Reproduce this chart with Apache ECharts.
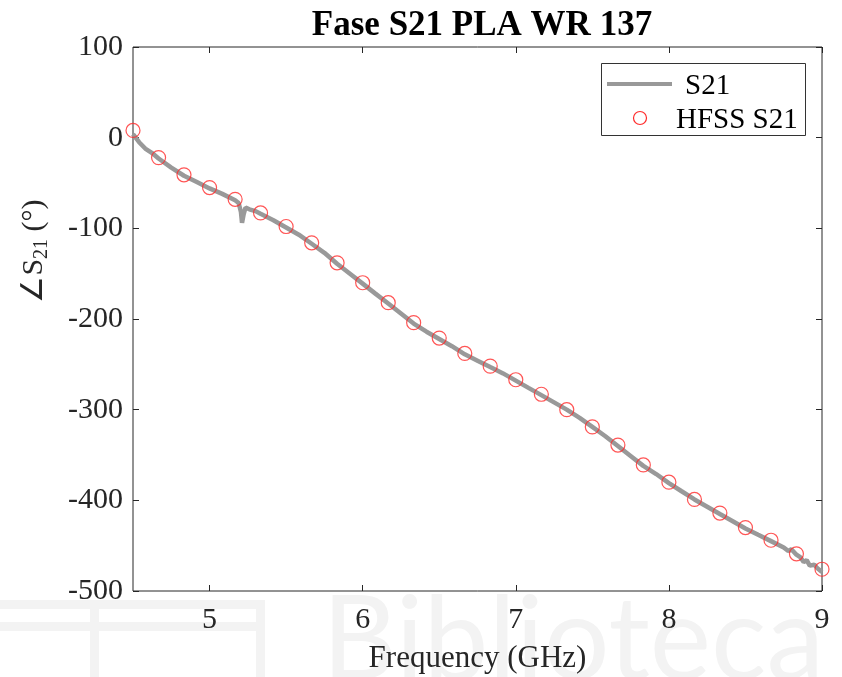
<!DOCTYPE html>
<html>
<head>
<meta charset="utf-8">
<script src="https://cdn.jsdelivr.net/npm/echarts@6/dist/echarts.min.js"></script>
<style>html,body{margin:0;padding:0;background:#fff}#c{width:842px;height:677px}</style>
</head>
<body>
<div id="c"></div>
<script>
// Measured S21 phase line (GHz, degrees)
const lineFreq = [4.5,4.54,4.58,4.625,4.667,4.75,4.833,4.917,5.0,5.083,5.167,5.19,5.205,5.212,5.222,5.235,5.26,5.3,5.333,5.417,5.5,5.583,5.667,5.75,5.833,5.917,6.0,6.083,6.167,6.25,6.333,6.417,6.5,6.583,6.667,6.75,6.833,6.917,7.0,7.083,7.167,7.25,7.333,7.417,7.5,7.583,7.667,7.75,7.833,7.917,8.0,8.083,8.167,8.25,8.333,8.417,8.5,8.583,8.667,8.75,8.78,8.8,8.833,8.86,8.88,8.9,8.92,8.95,8.97,9.0];
const lineVals = [4,-5,-12,-17,-23,-33,-42,-49,-56,-62,-69,-72,-82,-94,-85,-77,-79,-81,-84,-91,-99,-107,-117,-127,-139,-150,-161,-172,-183,-194,-205,-214,-222,-230,-239,-246,-253,-260,-268,-276,-284,-292,-300,-309,-319,-329,-340,-351,-362,-371,-381,-390,-399,-407,-415,-423,-431,-438,-445,-452,-456,-454,-460,-463,-468,-466,-472,-471,-475,-479];
// HFSS simulated points
const hfssFreq = [4.5,4.667,4.833,5.0,5.167,5.333,5.5,5.667,5.833,6.0,6.167,6.333,6.5,6.667,6.833,7.0,7.167,7.333,7.5,7.667,7.833,8.0,8.167,8.333,8.5,8.667,8.833,9.0];
const hfssVals = [8,-22,-41,-55,-68,-83,-98,-116,-138,-160,-182,-204,-221,-238,-252,-267,-283,-300,-319,-339,-361,-380,-399,-414,-430,-444,-459,-476];
const xTicks = [5,6,7,8,9];
const yTicks = [100,0,-100,-200,-300,-400,-500];
const seriesNames = ['S21','HFSS S21'];

const FONT = '"Liberation Serif","Times New Roman",serif';
const LINE_COLOR = '#999999';
const MARK_COLOR = '#ff2a2a';
const WM = '#f3f3f3';
const chart = echarts.init(document.getElementById('c'));
const line = lineFreq.map((f,i)=>[f,lineVals[i]]);
const hfss = hfssFreq.map((f,i)=>[f,hfssVals[i]]);

const tickStyle = {show:true, inside:true, length:6, lineStyle:{color:'#262626', width:1}};
chart.setOption({
  backgroundColor:'#fff',
  animation:false,
  graphic:[
    // faint background watermark of the source page
    {type:'text', z:-10, silent:true,
     style:{text:'Biblioteca', x:322, y:700, verticalAlign:'bottom', fill:WM, font:'116px Lato, sans-serif'}},
    {type:'rect', z:-10, silent:true, shape:{x:0,y:600,width:265,height:9}, style:{fill:WM}},
    {type:'rect', z:-10, silent:true, shape:{x:0,y:622,width:265,height:9}, style:{fill:WM}},
    {type:'rect', z:-10, silent:true, shape:{x:90,y:600,width:9,height:77}, style:{fill:WM}},
    {type:'rect', z:-10, silent:true, shape:{x:256,y:600,width:9,height:77}, style:{fill:WM}},
    // y-axis name
    {type:'text', rotation:Math.PI/2, silent:true, z:10, position:[34,251],
     style:{
       text:'{a|∠S}{s|21}{a| (°)}', x:0, y:0, align:'center', verticalAlign:'middle',
       rich:{a:{fontFamily:FONT, fontSize:30, fill:'#262626'}, s:{fontFamily:FONT, fontSize:20, fill:'#262626', padding:[16,0,0,0]}}
     }},
    // legend
    {type:'group', z:20, children:[
      {type:'rect', shape:{x:601.5,y:63.5,width:204,height:72}, style:{fill:'#fff', stroke:'#333', lineWidth:1}},
      {type:'line', shape:{x1:607,y1:84,x2:672,y2:84}, style:{stroke:LINE_COLOR, lineWidth:4}},
      {type:'text', style:{text:seriesNames[0], x:685, y:86, verticalAlign:'middle', fontFamily:FONT, fontSize:29, fill:'#000'}},
      {type:'circle', shape:{cx:640,cy:118,r:6.5}, style:{fill:'none', stroke:MARK_COLOR, lineWidth:1.2}},
      {type:'text', style:{text:seriesNames[1], x:676, y:120, verticalAlign:'middle', fontFamily:FONT, fontSize:29, fill:'#000'}}
    ]}
  ],
  title:{text:'Fase S21 PLA WR 137', left:477, textAlign:'center', top:3,
    textStyle:{fontFamily:FONT, fontWeight:'bold', fontSize:35, color:'#000'}},
  grid:{left:133, right:20, top:47, bottom:86, outerBoundsMode:'none', containLabel:false,
    show:true, backgroundColor:'#fff', borderColor:'#262626', borderWidth:1},
  xAxis:[{
    type:'value', min:4.5, max:9, position:'bottom',
    name:'Frequency (GHz)', nameLocation:'middle', nameGap:52,
    nameTextStyle:{fontFamily:FONT, fontSize:31, color:'#262626'},
    axisLine:{show:false, onZero:false}, splitLine:{show:false},
    axisTick:Object.assign({customValues:xTicks}, tickStyle),
    axisLabel:{customValues:xTicks, fontFamily:FONT, fontSize:30, color:'#262626', margin:14}
  },{
    type:'value', min:4.5, max:9, position:'top',
    axisLine:{show:false, onZero:false}, splitLine:{show:false},
    axisTick:Object.assign({customValues:xTicks}, tickStyle), axisLabel:{show:false}
  }],
  yAxis:[{
    type:'value', min:-500, max:100, interval:100, position:'left',
    axisLine:{show:false, onZero:false}, splitLine:{show:false},
    axisTick:tickStyle,
    axisLabel:{fontFamily:FONT, fontSize:30, color:'#262626', margin:10}
  },{
    type:'value', min:-500, max:100, interval:100, position:'right',
    axisLine:{show:false, onZero:false}, splitLine:{show:false},
    axisTick:tickStyle, axisLabel:{show:false}
  }],
  series:[{
    name:seriesNames[0], type:'line', data:line, symbol:'none', smooth:false,
    lineStyle:{color:LINE_COLOR, width:4.5}, itemStyle:{color:LINE_COLOR}, z:2
  },{
    name:seriesNames[1], type:'scatter', data:hfss, symbol:'circle', symbolSize:14,
    itemStyle:{color:'rgba(0,0,0,0)', borderColor:MARK_COLOR, borderWidth:1.2}, z:3
  }]
});
</script>
</body>
</html>
